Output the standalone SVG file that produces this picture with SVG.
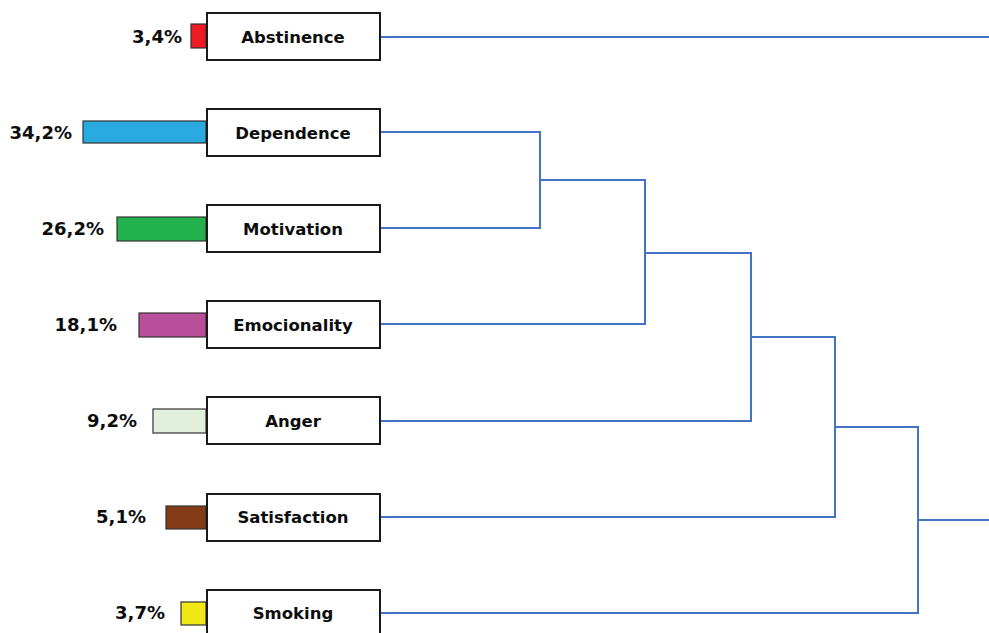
<svg xmlns="http://www.w3.org/2000/svg" width="989" height="633" viewBox="0 0 989 633">
<style>
.box{fill:#fff;stroke:#1a1a1a;stroke-width:2}
.bar{stroke:#333;stroke-width:1.2}
.lbl{font-family:"DejaVu Sans","Verdana",sans-serif;font-weight:bold;font-size:16.5px;fill:#0d0d0d;text-anchor:middle}
.pct{font-family:"DejaVu Sans","Verdana",sans-serif;font-weight:bold;font-size:18px;fill:#0d0d0d;text-anchor:end}
.con{fill:none;stroke:#4472C4;stroke-width:2;stroke-linejoin:miter}
</style>
<rect width="989" height="633" fill="#fff"/>
<g id="connectors">
<path class="con" d="M380,37 H989"/>
<path class="con" d="M380,132 H540 V228 H380"/>
<path class="con" d="M540,180 H645 V324 H380"/>
<path class="con" d="M645,253 H751 V421 H380"/>
<path class="con" d="M751,337 H835 V517 H380"/>
<path class="con" d="M835,427 H918 V613 H380"/>
<path class="con" d="M918,520 H989"/>
</g>
<g id="abstinence">
<rect class="bar" x="191" y="24" width="15" height="24" fill="#ED1C24"/>
<text class="pct" x="182" y="43">3,4%</text>
<rect class="box" x="207" y="13" width="173" height="47"/>
<text class="lbl" x="293" y="43">Abstinence</text>
</g>
<g id="dependence">
<rect class="bar" x="83" y="121" width="123" height="22" fill="#29ABE2"/>
<text class="pct" x="72" y="139">34,2%</text>
<rect class="box" x="207" y="109" width="173" height="47"/>
<text class="lbl" x="293" y="139">Dependence</text>
</g>
<g id="motivation">
<rect class="bar" x="117" y="217" width="89" height="24" fill="#22B14C"/>
<text class="pct" x="104" y="235">26,2%</text>
<rect class="box" x="207" y="205" width="173" height="47"/>
<text class="lbl" x="293" y="235">Motivation</text>
</g>
<g id="emocionality">
<rect class="bar" x="139" y="313" width="67" height="24" fill="#B94F9A"/>
<text class="pct" x="117" y="331">18,1%</text>
<rect class="box" x="207" y="301" width="173" height="47"/>
<text class="lbl" x="293" y="331">Emocionality</text>
</g>
<g id="anger">
<rect class="bar" x="153" y="409" width="53" height="24" fill="#E2EFDA"/>
<text class="pct" x="137" y="427">9,2%</text>
<rect class="box" x="207" y="397" width="173" height="47"/>
<text class="lbl" x="293" y="427">Anger</text>
</g>
<g id="satisfaction">
<rect class="bar" x="166" y="506" width="40" height="23" fill="#843C17"/>
<text class="pct" x="146" y="523">5,1%</text>
<rect class="box" x="207" y="494" width="173" height="47"/>
<text class="lbl" x="293" y="523">Satisfaction</text>
</g>
<g id="smoking">
<rect class="bar" x="181" y="602" width="25" height="23" fill="#F0E916"/>
<text class="pct" x="165" y="619">3,7%</text>
<rect class="box" x="207" y="590" width="173" height="47"/>
<text class="lbl" x="293" y="619">Smoking</text>
</g>
</svg>
